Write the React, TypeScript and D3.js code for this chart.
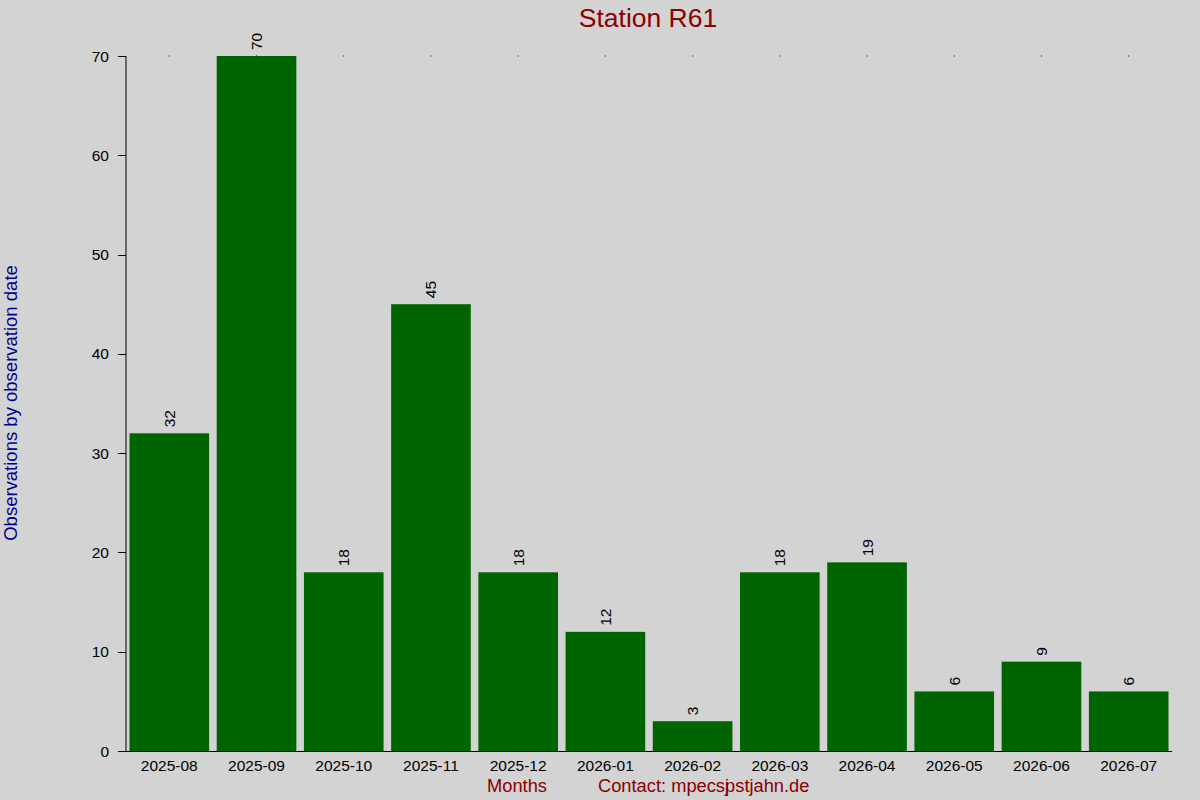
import React from "react";
import { scaleBand, scaleLinear } from "d3";

const months = [
  "2025-08", "2025-09", "2025-10", "2025-11", "2025-12", "2026-01",
  "2026-02", "2026-03", "2026-04", "2026-05", "2026-06", "2026-07",
];
const counts = [32, 70, 18, 45, 18, 12, 3, 18, 19, 6, 9, 6];
const yTicks = [0, 10, 20, 30, 40, 50, 60, 70];

const W = 1200;
const H = 800;
const left = 126;
const right = 1172;
const top = 56;
const bottom = 751;
const font = "'Liberation Sans', Arial, sans-serif";

export default function App() {
  const x = scaleBand<string>()
    .domain(months)
    .range([left, right])
    .paddingInner(0.087)
    .paddingOuter(0.04);
  const y = scaleLinear().domain([0, 70]).range([bottom, top]);

  return (
    <svg
      width={W}
      height={H}
      style={{ position: "absolute", left: 0, top: 0, display: "block" }}
      fontFamily={font}
    >
      <rect width={W} height={H} fill="#d3d3d3" />

      {/* bars */}
      {months.map((m, i) => (
        <rect
          key={m}
          x={x(m)}
          y={y(counts[i])}
          width={x.bandwidth()}
          height={y(0) - y(counts[i])}
          fill="#006400"
        />
      ))}

      {/* small marks along the top */}
      {months.map((m) => (
        <rect key={"d" + m} x={x(m)! + x.bandwidth() / 2 - 0.5} y={top - 0.5} width={1} height={1} fill="#000" />
      ))}

      {/* value labels */}
      {months.map((m, i) => {
        const cx = x(m)! + x.bandwidth() / 2;
        const cy = y(counts[i]) - 6;
        return (
          <text
            key={"v" + m}
            transform={`translate(${cx + 5.5},${cy}) rotate(-90)`}
            fontSize={15.5}
            fill="#000"
          >
            {counts[i]}
          </text>
        );
      })}

      {/* axes */}
      <line x1={left} x2={left} y1={top} y2={bottom} stroke="#000" strokeWidth={1} />
      <line x1={118} x2={right} y1={bottom + 0.5} y2={bottom + 0.5} stroke="#000" strokeWidth={1} />
      {yTicks.map((t) => (
        <g key={t}>
          <line x1={118} x2={left} y1={Math.round(y(t)) + 0.5} y2={Math.round(y(t)) + 0.5} stroke="#000" />
          <text x={109} y={y(t) + 5.5} textAnchor="end" fontSize={15.5} fill="#000">
            {t}
          </text>
        </g>
      ))}
      {months.map((m) => (
        <text
          key={"x" + m}
          x={x(m)! + x.bandwidth() / 2}
          y={771}
          textAnchor="middle"
          fontSize={15.5}
          fill="#000"
        >
          {m}
        </text>
      ))}

      {/* titles */}
      <text x={648} y={27} textAnchor="middle" fontSize={26.5} fill="#8b0000">
        Station R61
      </text>
      <text
        transform="translate(17,403) rotate(-90)"
        textAnchor="middle"
        fontSize={18.5}
        fill="#00008b"
      >
        Observations by observation date
      </text>
      <text x={517} y={792} textAnchor="middle" fontSize={18.3} fill="#8b0000">
        Months
      </text>
      <text x={598} y={792} fontSize={18.3} fill="#8b0000">
        Contact: mpecs
        <tspan>j</tspan>
        <tspan dx={-4}>pstjahn.de</tspan>
      </text>
    </svg>
  );
}
